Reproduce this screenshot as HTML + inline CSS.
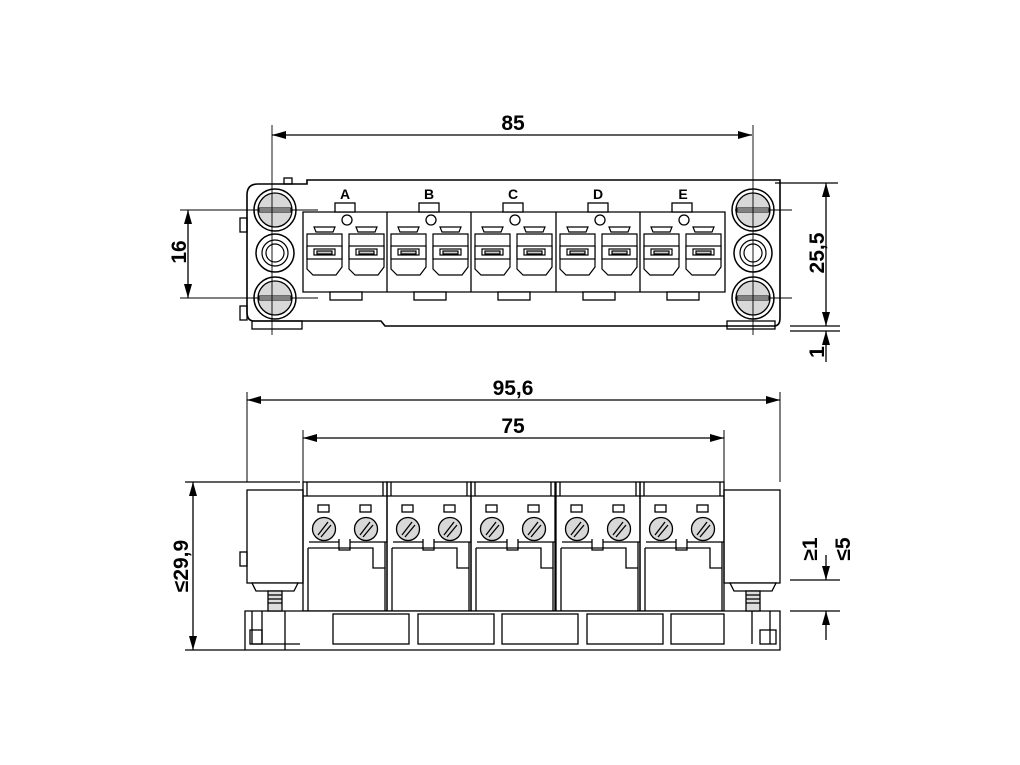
<!DOCTYPE html>
<html><head><style>body{margin:0;background:#fff}svg{display:block}text{font-family:"Liberation Sans",sans-serif;font-weight:bold;font-size:21px;fill:#000}</style></head><body>
<svg width="1020" height="765" viewBox="0 0 1020 765" xmlns="http://www.w3.org/2000/svg">
<defs>
<marker id="a" viewBox="0 0 14 8" refX="14" refY="4" markerWidth="14" markerHeight="8" orient="auto-start-reverse" markerUnits="userSpaceOnUse"><path d="M0,0L14,4L0,8z" fill="#000"/></marker>
<g id="scr"><circle r="21" fill="#fff" stroke="#000" stroke-width="1.5"/><circle r="17" fill="#d8d8d8" stroke="#000" stroke-width="1.3"/><rect x="-16" y="-2" width="32" height="4" fill="#fff" stroke="#000" stroke-width="1"/></g>
<g id="hole"><circle r="19" fill="#fff" stroke="#000" stroke-width="1.5"/><circle r="13" fill="#fff" stroke="#000" stroke-width="1.2"/><circle r="9" fill="#fff" stroke="#000" stroke-width="1.2"/></g>
<g id="port" fill="#fff" stroke="#000" stroke-width="1.2"><path d="M0,7H35V40L29,48H6L0,42Z"/><path d="M7,0H28L26,5H9Z"/><rect x="0" y="19" width="35" height="13"/><rect x="7" y="22" width="21" height="6"/><rect x="10" y="24" width="15" height="3" fill="#ccc"/></g>
<g id="tm" fill="none" stroke="#000" stroke-width="1.3">
<rect x="32" y="-9" width="20" height="9" fill="#fff"/><circle cx="44" cy="8" r="5"/>
<use href="#port" x="4" y="15"/><use href="#port" x="46" y="15"/>
<rect x="27" y="80" width="32" height="8" fill="#fff"/>
</g>
<g id="bm" fill="none" stroke="#000" stroke-width="1.3">
<rect x="0" y="0" width="84" height="129"/><line x1="4" y1="0" x2="4" y2="14"/><line x1="80" y1="0" x2="80" y2="14"/>
<line x1="0" y1="14" x2="84" y2="14"/>
<rect x="15" y="23" width="11" height="7"/><rect x="57" y="23" width="11" height="7"/>
<circle cx="21" cy="47" r="11.5" fill="#d8d8d8"/><circle cx="63" cy="47" r="11.5" fill="#d8d8d8"/>
<path d="M15,53L25,40M18,55L28,43M57,53L67,40M60,55L70,43"/>
<path d="M6,60H36M47,60H84"/><path d="M36,57V68H47V57"/>
<line x1="5" y1="66" x2="5" y2="129"/><path d="M5,66H70V86H82"/><line x1="82" y1="60" x2="82" y2="129"/>
</g>
</defs>
<g fill="none" stroke="#000" stroke-width="1.3">
<path d="M258,184H307V180H780Q780,184 780,190V318Q780,326 774,326H385L381,321H254Q247,321 247,312V195Q247,184 258,184Z" stroke-width="1.6" fill="#fff"/>
<rect x="284" y="178" width="8" height="6"/>
<rect x="240" y="218" width="7" height="14"/><rect x="240" y="306" width="7" height="14"/>
<rect x="252" y="321" width="50" height="8"/><rect x="727" y="321" width="48" height="8"/>
<path d="M303,212H725V292H303Z" fill="#fff"/>
<path d="M387,212V292M471,212V292M556,212V292M640,212V292"/>
<use href="#tm" x="303" y="212"/><use href="#tm" x="387" y="212"/><use href="#tm" x="471" y="212"/><use href="#tm" x="556" y="212"/><use href="#tm" x="640" y="212"/>
<use href="#scr" x="275" y="210"/><use href="#hole" x="275" y="253"/><use href="#scr" x="275" y="298"/>
<use href="#scr" x="753" y="210"/><use href="#hole" x="753" y="253"/><use href="#scr" x="753" y="298"/>
<g stroke-width="0.9"><path d="M180,210H318M180,298H318M735,210H792M735,298H792M272,125V335M753,125V335"/></g>
<path d="M272,135H752" marker-start="url(#a)" marker-end="url(#a)"/>
<path d="M188,210V298" marker-start="url(#a)" marker-end="url(#a)"/>
<path d="M775,183H838M790,326H840M790,331H840"/>
<path d="M826,183V326" marker-start="url(#a)" marker-end="url(#a)"/>
<path d="M826,362V331" marker-end="url(#a)"/>
<path d="M247,392V482M780,392V482M303,430V482M724,430V482" stroke-width="1"/>
<path d="M247,400H780" marker-start="url(#a)" marker-end="url(#a)"/>
<path d="M303,438H724" marker-start="url(#a)" marker-end="url(#a)"/>
<path d="M185,482H300"/><path d="M185,650H245"/>
<path d="M193,482V650" marker-start="url(#a)" marker-end="url(#a)"/>
<rect x="247" y="490" width="56" height="93" fill="#fff"/><rect x="240" y="552" width="7" height="14"/>
<rect x="724" y="490" width="56" height="93" fill="#fff"/>
<use href="#bm" x="303" y="482"/><use href="#bm" x="387" y="482"/><use href="#bm" x="471" y="482"/><use href="#bm" x="556" y="482"/><use href="#bm" x="640" y="482"/>
<path d="M245,611H780V650H245Z" fill="#fff"/>
<rect x="333" y="614" width="76" height="30"/><rect x="418" y="614" width="76" height="30"/><rect x="502" y="614" width="76" height="30"/><rect x="587" y="614" width="76" height="30"/><rect x="671" y="614" width="53" height="30"/>
<path d="M252,611V644H300M262,611V644M285,611V650M752,611V644M770,611V644"/>
<rect x="250" y="630" width="12" height="14"/><rect x="760" y="630" width="16" height="14"/>
<g fill="#fff"><path d="M252,583H298L294,591H256Z"/><path d="M730,583H776L772,591H734Z"/>
<rect x="268" y="591" width="14" height="20" fill="#ddd"/><rect x="746" y="591" width="14" height="20" fill="#ddd"/></g>
<path d="M268,595H282M268,599H282M268,603H282M746,595H760M746,599H760M746,603H760"/>
<path d="M790,580H840M790,611H840"/>
<path d="M826,555V580" marker-end="url(#a)"/><path d="M826,640V611" marker-end="url(#a)"/>
</g>
<text x="513" y="130" text-anchor="middle">85</text>
<text x="345" y="199" text-anchor="middle" style="font-size:14px">A</text><text x="429" y="199" text-anchor="middle" style="font-size:14px">B</text><text x="513" y="199" text-anchor="middle" style="font-size:14px">C</text><text x="598" y="199" text-anchor="middle" style="font-size:14px">D</text><text x="683" y="199" text-anchor="middle" style="font-size:14px">E</text>
<text transform="translate(186,252) rotate(-90)" text-anchor="middle">16</text>
<text transform="translate(824,253) rotate(-90)" text-anchor="middle">25,5</text>
<text transform="translate(824,352) rotate(-90)" text-anchor="middle">1</text>
<text x="513" y="395" text-anchor="middle">95,6</text>
<text x="513" y="433" text-anchor="middle">75</text>
<text transform="translate(188,566) rotate(-90)" text-anchor="middle">≤29,9</text>
<text transform="translate(817,549) rotate(-90)" text-anchor="middle">≥1</text>
<text transform="translate(850,549) rotate(-90)" text-anchor="middle">≤5</text>
</svg>
</body></html>
